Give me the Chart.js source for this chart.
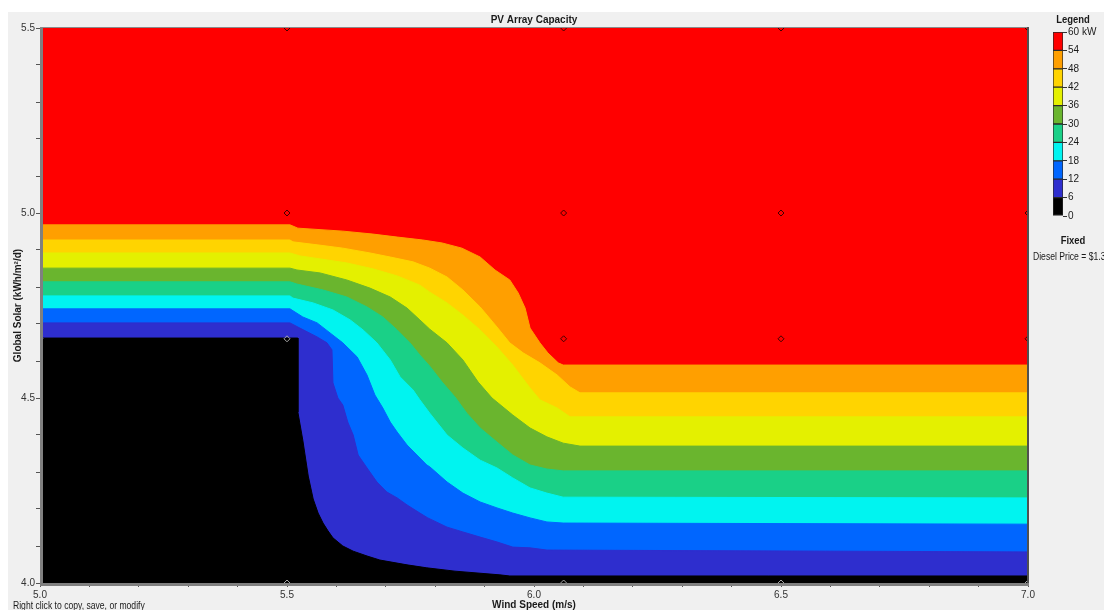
<!DOCTYPE html>
<html>
<head>
<meta charset="utf-8">
<title>PV Array Capacity</title>
<script src="https://cdn.jsdelivr.net/npm/chart.js@4.4.1/dist/chart.umd.min.js"></script>
<style>
  html, body { margin: 0; padding: 0; background: #ffffff; }
  body { width: 1104px; height: 610px; overflow: hidden; position: relative;
         font-family: "Liberation Sans", Arial, sans-serif; }
  #panel { position: absolute; left: 8px; top: 12px; right: 0; bottom: 0; background: #f0f0f0; }
  #main { position: absolute; left: 0; top: 0; }
  #scaleBar { position: absolute; left: 1053px; top: 24px; }
  .txt { position: absolute; white-space: nowrap; color: #1a1a1a; }
  .bold { font-weight: bold; font-size: 11px; line-height: 13px; transform: scaleX(0.86); transform-origin: 50% 50%; }
  .small { font-size: 10px; line-height: 12px; transform: scaleX(0.86); transform-origin: 0 50%; }
</style>
</head>
<body>
<div id="panel"></div>
<canvas id="main" width="1104" height="610"></canvas>
<canvas id="scaleBar" width="50" height="200"></canvas>
<div class="txt bold" style="left:1043px; top:13px; width:60px; text-align:center;">Legend</div>
<div class="txt bold" style="left:1043px; top:234px; width:60px; text-align:center;">Fixed</div>
<div class="txt small" style="left:1033px; top:251px;">Diesel Price = $1.3</div>
<div class="txt small" style="left:13px; top:600px;">Right click to copy, save, or modify</div>

<script>
// Sensitivity grid (wind speed in m/s, global solar in kWh/m²/d)
const windSpeeds = [5.0, 5.5, 6.06, 6.5, 7.0];
const solarLevels = [4.0, 4.66, 5.0, 5.5];

// Capacity classes in kW and their colours (lowest class first)
const capacityLevels = [0, 6, 12, 18, 24, 30, 36, 42, 48, 54, 60];
const classColors = ['#000000', '#2e2ece', '#0066ff', '#00f4f0', '#1ad087',
                     '#6ab52e', '#e4f000', '#ffd400', '#ff9f00', '#ff0000'];

// Iso-capacity lines [wind, solar]: the region below each line is under that capacity
const iso6 = [[5.000,4.662],[5.522,4.662],[5.522,4.462],[5.532,4.386],[5.543,4.289],[5.553,4.227],
  [5.563,4.189],[5.573,4.162],[5.583,4.141],[5.593,4.122],[5.613,4.100],[5.634,4.086],[5.662,4.073],
  [5.688,4.062],[5.743,4.049],[5.783,4.041],[5.840,4.032],[5.931,4.022],[5.951,4.019],[7.000,4.019]];
const iso12 = [[5.000,4.703],[5.506,4.703],[5.526,4.689],[5.561,4.665],[5.581,4.649],[5.591,4.630],
  [5.593,4.541],[5.603,4.500],[5.613,4.481],[5.623,4.435],[5.634,4.400],[5.644,4.346],[5.662,4.311],
  [5.682,4.273],[5.702,4.246],[5.723,4.230],[5.743,4.211],[5.769,4.189],[5.785,4.176],[5.824,4.151],
  [5.856,4.138],[5.891,4.124],[5.925,4.111],[5.957,4.097],[5.992,4.095],[6.026,4.089],[7.000,4.084]];
const iso18 = [[5.000,4.741],[5.506,4.741],[5.532,4.719],[5.561,4.703],[5.587,4.676],[5.613,4.649],
  [5.642,4.611],[5.662,4.562],[5.678,4.508],[5.694,4.473],[5.709,4.435],[5.723,4.408],[5.743,4.373],
  [5.763,4.346],[5.783,4.319],[5.789,4.314],[5.824,4.273],[5.856,4.243],[5.891,4.219],[5.925,4.203],
  [5.957,4.189],[5.992,4.176],[6.026,4.165],[6.059,4.162],[7.000,4.159]];
const iso24 = [[5.000,4.776],[5.506,4.776],[5.512,4.770],[5.553,4.757],[5.593,4.738],[5.628,4.711],
  [5.654,4.684],[5.682,4.649],[5.709,4.603],[5.729,4.557],[5.755,4.522],[5.769,4.495],[5.789,4.459],
  [5.824,4.400],[5.856,4.365],[5.891,4.332],[5.925,4.311],[5.957,4.284],[5.992,4.257],[6.026,4.243],
  [6.059,4.232],[7.000,4.230]];
const iso30 = [[5.000,4.814],[5.506,4.814],[5.520,4.808],[5.573,4.792],[5.621,4.773],[5.662,4.746],
  [5.694,4.719],[5.723,4.684],[5.749,4.649],[5.769,4.616],[5.789,4.586],[5.814,4.543],[5.840,4.503],
  [5.864,4.459],[5.891,4.419],[5.925,4.381],[5.957,4.346],[5.992,4.319],[6.026,4.308],[6.059,4.303],
  [7.000,4.303]];
const iso36 = [[5.000,4.851],[5.506,4.851],[5.520,4.846],[5.567,4.838],[5.621,4.819],[5.668,4.797],
  [5.709,4.773],[5.743,4.743],[5.769,4.711],[5.789,4.686],[5.824,4.649],[5.856,4.603],[5.887,4.543],
  [5.915,4.500],[5.957,4.454],[5.992,4.419],[6.026,4.395],[6.059,4.378],[6.093,4.370],[7.000,4.370]];
const iso42 = [[5.000,4.892],[5.506,4.892],[5.526,4.884],[5.567,4.876],[5.621,4.865],[5.674,4.849],
  [5.723,4.830],[5.769,4.805],[5.789,4.786],[5.824,4.757],[5.856,4.724],[5.891,4.684],[5.925,4.638],
  [5.957,4.589],[5.992,4.527],[6.012,4.495],[6.047,4.473],[6.073,4.449],[7.000,4.449]];
const iso48 = [[5.000,4.927],[5.506,4.927],[5.512,4.922],[5.561,4.914],[5.613,4.905],[5.668,4.892],
  [5.709,4.881],[5.755,4.868],[5.789,4.851],[5.824,4.827],[5.856,4.792],[5.891,4.746],[5.925,4.692],
  [5.951,4.649],[5.978,4.622],[6.012,4.595],[6.047,4.562],[6.073,4.530],[6.093,4.514],[7.000,4.514]];
const iso54 = [[5.000,4.968],[5.506,4.968],[5.522,4.959],[5.613,4.951],[5.674,4.943],[5.723,4.935],
  [5.775,4.927],[5.814,4.919],[5.854,4.905],[5.891,4.881],[5.921,4.846],[5.951,4.819],[5.968,4.784],
  [5.982,4.743],[5.992,4.689],[6.012,4.649],[6.028,4.622],[6.049,4.595],[6.059,4.589],[7.000,4.589]];
const iso60 = [[5.000,5.500],[7.000,5.500]];

const isoLines = [iso6, iso12, iso18, iso24, iso30, iso36, iso42, iso48, iso54, iso60];

const face = '"Liberation Sans", Arial, sans-serif';

// Filled bands: each class is painted below its upper iso-line, the lower class on top
const bandSets = isoLines.map((line, i) => ({
  label: capacityLevels[i] + '–' + capacityLevels[i + 1] + ' kW',
  data: line.map(([x, y]) => ({ x, y })),
  fill: 'start',
  backgroundColor: classColors[i],
  borderColor: classColors[i],
  borderWidth: 1,
  pointRadius: 0,
  tension: 0,
  order: i + 1
}));

// Simulated sensitivity cases
const gridPoints = [];
solarLevels.forEach(s => windSpeeds.forEach(w => gridPoints.push({ x: w, y: s })));

const caseSet = {
  label: 'cases',
  data: gridPoints,
  showLine: false,
  pointStyle: 'rectRot',
  pointRadius: 3,
  pointBorderWidth: 1,
  pointBackgroundColor: 'rgba(0,0,0,0)',
  pointBorderColor: ctx => {
    const p = ctx.raw;
    if (!p) return '#400000';
    return (p.y < 4.7 && p.x <= 5.5) || p.y === 4.0 ? '#a8a8a8' : '#400000';
  },
  order: 0
};

const frame = {
  id: 'frame',
  afterDatasetsDraw(chart) {
    const { ctx, chartArea: a } = chart;
    ctx.save();
    ctx.fillStyle = '#8a8a8a';
    ctx.fillRect(a.left, a.top - 1, a.right - a.left, 1);
    ctx.fillStyle = '#505050';
    ctx.fillRect(a.right - 1, a.top - 1, 2, a.bottom - a.top + 1);
    ctx.fillStyle = '#808080';
    ctx.fillRect(a.left, a.top, 3, a.bottom - a.top + 3);
    ctx.fillRect(a.left, a.bottom, a.right - a.left + 1, 3);
    ctx.restore();
  }
};

const majorLabel = v => Math.abs(v * 2 - Math.round(v * 2)) < 1e-6 ? v.toFixed(1) : '';

new Chart(document.getElementById('main'), {
  type: 'line',
  data: { datasets: [caseSet, ...bandSets] },
  options: {
    responsive: false,
    animation: false,
    devicePixelRatio: 1,
    layout: { padding: { left: 8, right: 76, top: 0, bottom: 0 } },
    plugins: {
      legend: { display: false },
      tooltip: { enabled: false },
      title: {
        display: true,
        text: 'PV Array Capacity',
        fullSize: false,
        color: '#1a1a1a',
        font: { family: face, size: 10, weight: 'bold', lineHeight: 1.2 },
        padding: { top: 14, bottom: 2 }
      }
    },
    scales: {
      x: {
        type: 'linear',
        min: 5.0, max: 7.0,
        ticks: { stepSize: 0.1, autoSkip: false, maxRotation: 0, padding: 2,
                 color: '#333', font: { family: face, size: 10 }, callback: majorLabel },
        grid: { drawOnChartArea: false, drawTicks: true, tickLength: 4, color: '#555' },
        border: { display: false },
        title: { display: true, text: 'Wind Speed (m/s)', color: '#1a1a1a',
                 font: { family: face, size: 10, weight: 'bold', lineHeight: 1 },
                 padding: { top: 0, bottom: 0 } },
        afterFit(scale) { scale.height = 27; }
      },
      y: {
        type: 'linear',
        min: 4.0, max: 5.5,
        ticks: { stepSize: 0.1, autoSkip: false, padding: 1,
                 color: '#333', font: { family: face, size: 10 }, callback: majorLabel },
        grid: { drawOnChartArea: false, drawTicks: true, tickLength: 4, color: '#555' },
        border: { display: false },
        title: { display: true, text: 'Global Solar (kWh/m²/d)', color: '#1a1a1a',
                 font: { family: face, size: 10, weight: 'bold', lineHeight: 1.2 },
                 padding: { top: 4, bottom: 0 } },
        afterFit(scale) { scale.width = 32; }
      }
    }
  },
  plugins: [frame]
});

// Colour scale of the capacity classes
new Chart(document.getElementById('scaleBar'), {
  type: 'bar',
  data: {
    labels: [''],
    datasets: classColors.map((c, i) => ({
      label: capacityLevels[i] + '–' + capacityLevels[i + 1],
      data: [capacityLevels[i + 1] - capacityLevels[i]],
      backgroundColor: c,
      borderColor: '#2a2a2a',
      borderWidth: 1,
      borderSkipped: false,
      barPercentage: 1,
      categoryPercentage: 1
    }))
  },
  options: {
    responsive: false,
    animation: false,
    devicePixelRatio: 1,
    layout: { padding: { top: 8, bottom: 8, left: 0, right: 0 } },
    plugins: { legend: { display: false }, tooltip: { enabled: false } },
    scales: {
      x: { display: false, stacked: true },
      y: {
        position: 'right',
        stacked: true,
        min: 0, max: 60,
        ticks: { stepSize: 6, padding: 1, color: '#1a1a1a', font: { family: face, size: 10 },
                 callback: v => v === 60 ? '60 kW' : String(v) },
        grid: { drawOnChartArea: false, drawTicks: true, tickLength: 4, color: '#333' },
        border: { display: false },
        afterFit(scale) { scale.width = 40; }
      }
    }
  }
});
</script>
</body>
</html>
